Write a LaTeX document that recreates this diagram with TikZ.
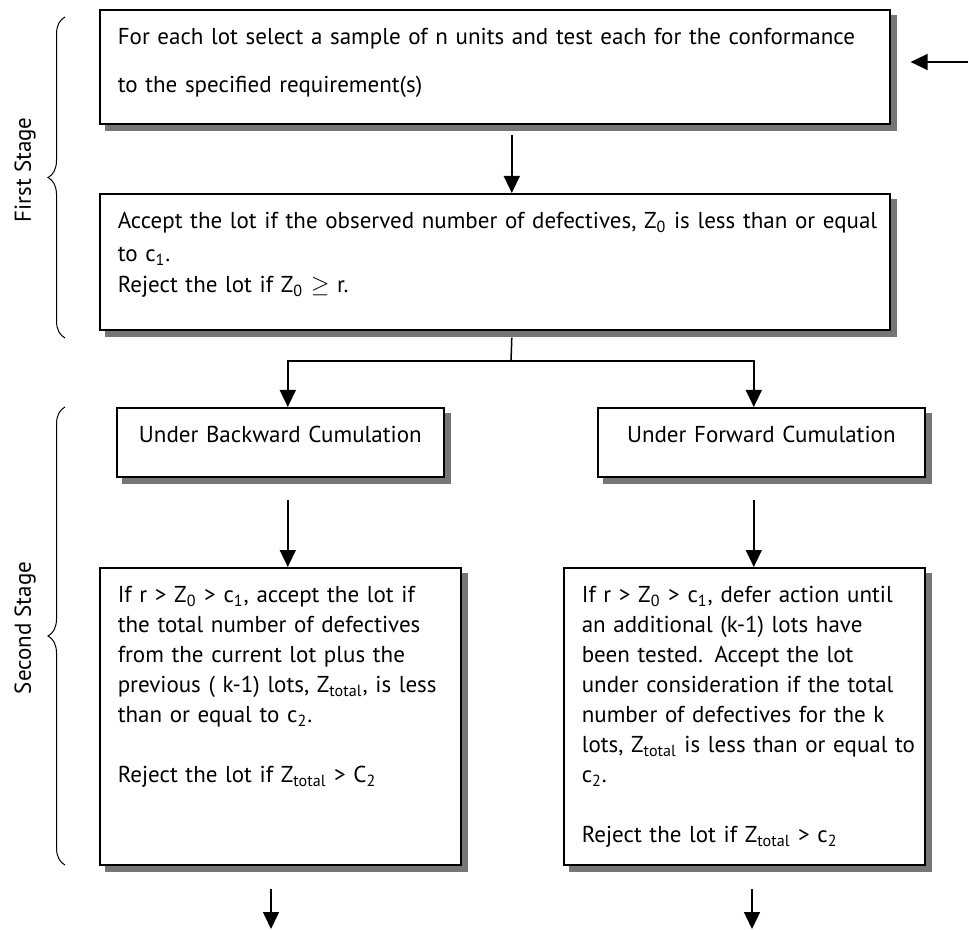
\documentclass[tikz,border=0pt]{standalone}
\usepackage{fontspec}
\setmainfont{PT Sans}
\usepackage{tikz}
\usetikzlibrary{arrows.meta, positioning, calc, backgrounds, decorations.pathreplacing}

\definecolor{shadowgray}{RGB}{118,118,118}
\newcommand{\fullline}[1]{\makebox[\linewidth][s]{#1}}

\begin{document}
\begin{tikzpicture}[
        x=0.5pt, y=-0.5pt,
        arrow/.style={-{Triangle[width=8pt,length=8.5pt]}, line width=0.75pt},
        flowbox/.style={draw, line width=0.8pt, fill=white, rectangle, anchor=north west,
            inner xsep=9pt, inner ysep=0pt, text height=17.5pt, align=left,
            font=\fontsize{11.5}{15}\selectfont},
        boxshadow/.style={draw=shadowgray, fill=shadowgray, line width=0.4pt},
        stagebrace/.style={decorate, decoration={brace, amplitude=8.5pt}, line width=0.5pt},
        stagelabel/.style={rotate=90, font=\fontsize{11.5}{15}\selectfont}
    ]
    \useasboundingbox (0,0) rectangle (969,930);

    % First stage: sampling and first decision
    \node[flowbox, text width=377pt, text depth=39.5pt] (sample) at (99,9)
        {\fullline{For each lot select a sample of n units and test each for the conformance}\\[9pt]
         to the specified requirement(s)};
    \node[flowbox, text width=377pt, text depth=50.5pt] (decide) at (99,193)
        {\fullline{Accept the lot if the observed number of defectives, Z\textsubscript{0} is less than or equal}\\[1.5pt]
         to c\textsubscript{1}.\\[0.5pt]
         Reject the lot if Z\textsubscript{0} $\geq$ r.};

    % Second stage: the two cumulation rules
    \node[flowbox, text width=155pt, inner xsep=4.25pt, text depth=17pt, align=center] (backward) at (116,407) {Under Backward Cumulation};
    \node[flowbox, text width=155pt, inner xsep=4.25pt, text depth=17pt, align=center] (forward) at (597,407) {Under Forward Cumulation};

    \node[flowbox, text width=162.5pt, text depth=131pt] (backrule) at (99,567)
        {\fullline{If r > Z\textsubscript{0} > c\textsubscript{1}, accept the lot if}\\
         \fullline{the total number of defectives}\\
         \fullline{from the current lot plus the}\\
         \fullline{previous ( k-1) lots, Z\textsubscript{total}, is less}\\
         than or equal to c\textsubscript{2}.\\[15pt]
         Reject the lot if Z\textsubscript{total} > C\textsubscript{2}};
    \node[flowbox, text width=162.5pt, text depth=131pt] (fwdrule) at (563,567)
        {\fullline{If r > Z\textsubscript{0} > c\textsubscript{1}, defer action until}\\
         \fullline{an additional (k-1) lots have}\\
         \fullline{been tested. Accept the lot}\\
         \fullline{under consideration if the total}\\
         \fullline{number of defectives for the k}\\
         \fullline{lots, Z\textsubscript{total} is less than or equal to}\\
         c\textsubscript{2}.\\[15pt]
         Reject the lot if Z\textsubscript{total} > c\textsubscript{2}};

    % Box shadows
    \begin{scope}[on background layer]
        \foreach \boxname in {sample,decide,backward,forward,backrule,fwdrule}
            \filldraw[boxshadow] ($(\boxname.south west)+(6,6)$) rectangle ($(\boxname.north east)+(6,6)$);
    \end{scope}

    % Stage braces
    \draw[stagebrace] (65,338) -- (65,17);
    \draw[stagebrace] (65,865) -- (65,407);
    \node[stagelabel] (firstlabel) at (25,170) {First Stage};
    \node[stagelabel] (secondlabel) at (25,628) {Second Stage};

    % Connectors
    \coordinate (loopback) at (968,62);
    \coordinate (fork) at (511,361);
    \coordinate (backexit) at (271,929);
    \coordinate (fwdexit) at (752,929);

    \draw[arrow] (loopback) -- ($(sample.east |- loopback)+(20,0)$);
    \draw[arrow] ($(sample.south)+(17,10)$) -- ($(decide.north)+(17,0)$);
    \draw[line width=0.75pt] ($(decide.south)+(17,7)$) -- (fork);
    \draw[arrow] (fork) -| ($(backward.north)+(7.5,0)$);
    \draw[arrow] (fork) -| ($(forward.north)+(-7.5,0)$);
    \draw[arrow] ($(backward.south)+(7.5,22)$) -- ($(backward.south |- backrule.north)+(7.5,0)$);
    \draw[arrow] ($(forward.south)+(-7.5,22)$) -- ($(forward.south |- fwdrule.north)+(-7.5,0)$);
    \draw[arrow] ($(backrule.south -| backexit)+(0,23)$) -- (backexit);
    \draw[arrow] ($(fwdrule.south -| fwdexit)+(0,23)$) -- (fwdexit);
\end{tikzpicture}
\end{document}
